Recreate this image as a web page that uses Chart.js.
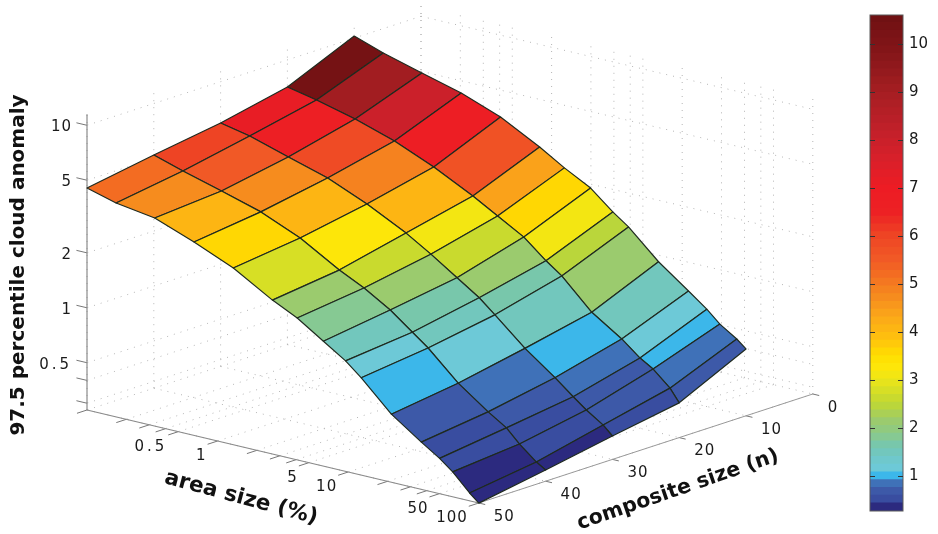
<!DOCTYPE html>
<html>
<head>
<meta charset="utf-8">
<title>97.5 percentile cloud anomaly</title>
<script src="https://cdn.jsdelivr.net/npm/chart.js@4/dist/chart.umd.js"></script>
<style>
  body { margin: 0; background: #fff; }
  #surface { position: absolute; left: 0; top: 0; }
  #colorbar { position: absolute; left: 860px; top: 0; }
</style>
</head>
<body>
<canvas id="surface" width="938" height="534"></canvas>
<canvas id="colorbar" width="78" height="534"></canvas>
<script>
// surface data
var areaSizes = [0.1, 0.167, 0.33, 0.66, 1.32, 2.63, 4.07, 6.46, 9.55, 12.6, 21.4, 36.3, 50.1, 63.1, 85, 100];
var compositeSizes = [10, 20, 30, 40, 50];
var anomalyN10 = [10.28, 9.04, 7.89, 6.89, 5.73, 4.41, 3.65, 3.06, 2.42, 2.10, 1.48, 1.12, 0.94, 0.81, 0.706, 0.64];
var anomalyN20 = [7.11, 6.58, 5.81, 4.95, 4.01, 3.13, 2.62, 2.17, 1.72, 1.49, 1.03, 0.805, 0.668, 0.605, 0.50, 0.427];
var anomalyN30 = [5.94, 5.50, 4.74, 4.09, 3.31, 2.58, 2.13, 1.71, 1.42, 1.20, 0.86, 0.65, 0.54, 0.475, 0.413, 0.37];
var anomalyN40 = [5.22, 4.66, 4.06, 3.51, 2.84, 2.13, 1.83, 1.50, 1.21, 1.04, 0.73, 0.556, 0.48, 0.407, 0.341, 0.317];
var anomalyN50 = [4.53, 4.09, 3.80, 3.16, 2.56, 1.92, 1.65, 1.33, 1.11, 0.94, 0.65, 0.50, 0.43, 0.377, 0.304, 0.275];
var anomaly = [anomalyN10, anomalyN20, anomalyN30, anomalyN40, anomalyN50];

// axis ticks
var areaTicks = [0.1, 0.2, 0.3, 0.4, 0.5, 1, 2, 3, 4, 5, 10, 20, 30, 40, 50, 100];
var areaLabels = [0.5, 1, 5, 10, 50, 100];
var compositeTicks = [0, 10, 20, 30, 40, 50];
var anomalyTicks = [0.3, 0.4, 0.5, 1, 2, 5, 10];
var anomalyLabels = [0.5, 1, 2, 5, 10];
var colorbarTicks = [1, 2, 3, 4, 5, 6, 7, 8, 9, 10];

// colormap
var colorValues = [0.28, 0.44, 0.45, 0.7, 0.78, 0.9, 0.92, 1.06, 1.08, 1.3, 1.6, 1.9, 2.15, 2.5, 2.9, 3.2, 3.5, 3.8, 4.2, 4.6, 5.2, 5.5, 6, 6.5, 7, 7.6, 8.2, 9, 9.8, 10.6];
var colorStops = ['#2c2a7f', '#2c2a7f', '#37489c', '#3d5aa9', '#3f6fb7', '#3f72b8', '#3cb7ea', '#3cb7ea', '#6ccadd', '#6ec8cf', '#74c6b3', '#8dca85', '#9ccb6c', '#bed734', '#e2e21e', '#fce80c', '#ffde00', '#ffc40c', '#fcae17', '#f7941d', '#f36c22', '#f15a26', '#ee4424', '#ed2024', '#ed1c24', '#d8202a', '#c1202a', '#a51e22', '#851619', '#6e1012'];
var colorMin = 0.28, colorMax = 10.6, colorBands = 64;

// view of the 3d box
var zMin = 0.2754, zMax = 11.5;
var view = { x0: 87, y0: 410, areaX: 130.6, areaY: 31, compX: 6.68, compY: 2.18, zPx: 182.5 };

function project(area, n, z) {
    var u = Math.log10(area) + 1;
    var k = 50 - n;
    return {
        x: view.x0 + view.areaX * u + view.compX * k,
        y: view.y0 + view.areaY * u - view.compY * k - view.zPx * (Math.log10(z) - Math.log10(zMin))
    };
}

function hexToRgb(h) {
    return [parseInt(h.substr(1, 2), 16), parseInt(h.substr(3, 2), 16), parseInt(h.substr(5, 2), 16)];
}

function rawColor(v) {
    var i = 0;
    while (i < colorValues.length - 2 && v > colorValues[i + 1]) i++;
    var t = (v - colorValues[i]) / (colorValues[i + 1] - colorValues[i]);
    t = Math.max(0, Math.min(1, t));
    var a = hexToRgb(colorStops[i]), b = hexToRgb(colorStops[i + 1]);
    return 'rgb(' + Math.round(a[0] + (b[0] - a[0]) * t) + ',' + Math.round(a[1] + (b[1] - a[1]) * t) + ',' + Math.round(a[2] + (b[2] - a[2]) * t) + ')';
}

// colours come in bands like the colorbar
function bandColor(v) {
    var w = (colorMax - colorMin) / colorBands;
    var b = Math.min(colorBands - 1, Math.max(0, Math.floor((v - colorMin) / w)));
    return rawColor(colorMin + (b + 0.5) * w);
}

function lineSet(points, color, width, dash) {
    return {
        data: points,
        showLine: true,
        fill: false,
        borderColor: color,
        borderWidth: width,
        borderDash: dash || [],
        pointRadius: 0,
        tension: 0
    };
}

var datasets = [];

// surface cells, painted from the far corner to the near one; each cell takes
// the colour of its far vertex
var cells = [];
for (var i = 0; i < compositeSizes.length - 1; i++) {
    for (var j = 0; j < areaSizes.length - 1; j++) {
        var pts = [
            project(areaSizes[j], compositeSizes[i], anomaly[i][j]),
            project(areaSizes[j + 1], compositeSizes[i], anomaly[i][j + 1]),
            project(areaSizes[j + 1], compositeSizes[i + 1], anomaly[i + 1][j + 1]),
            project(areaSizes[j], compositeSizes[i + 1], anomaly[i + 1][j])
        ];
        pts.push(pts[0]);
        var cell = lineSet(pts, '#1f2a1f', 1.2);
        cell.fill = 'shape';
        cell.backgroundColor = bandColor(anomaly[i][j]);
        cell.borderJoinStyle = 'round';
        cells.push(cell);
    }
}
// first dataset is drawn last in Chart.js
datasets = datasets.concat(cells.reverse());

// axis lines and tick marks
var axisColor = '#8a8a8a';
datasets.push(lineSet([project(0.1, 50, zMin), project(0.1, 50, zMax)], axisColor, 1.2));
datasets.push(lineSet([project(0.1, 50, zMin), project(100, 50, zMin)], axisColor, 1.2));
datasets.push(lineSet([project(100, 50, zMin), project(100, 0, zMin)], '#999', 1));
areaTicks.forEach(function (t) {
    datasets.push(lineSet([project(t, 50, zMin), project(t, 51.5, zMin)], '#777', 1));
});
compositeTicks.forEach(function (t) {
    datasets.push(lineSet([project(100, t, zMin), project(112, t, zMin)], '#777', 1));
});
anomalyTicks.forEach(function (t) {
    datasets.push(lineSet([project(0.1, 50, t), project(0.083, 50, t)], '#777', 1));
});

// dotted grid on the floor and the two back walls
var gridColor = '#b5b5b5', gridDash = [1, 6];
areaTicks.forEach(function (t) {
    datasets.push(lineSet([project(t, 0, zMin), project(t, 50, zMin)], gridColor, 1, gridDash));
    datasets.push(lineSet([project(t, 0, zMin), project(t, 0, zMax)], gridColor, 1, gridDash));
});
compositeTicks.forEach(function (t) {
    datasets.push(lineSet([project(0.1, t, zMin), project(100, t, zMin)], gridColor, 1, gridDash));
    datasets.push(lineSet([project(0.1, t, zMin), project(0.1, t, zMax)], gridColor, 1, gridDash));
});
anomalyTicks.forEach(function (t) {
    datasets.push(lineSet([project(0.1, 0, t), project(0.1, 50, t)], gridColor, 1, gridDash));
    datasets.push(lineSet([project(0.1, 0, t), project(100, 0, t)], gridColor, 1, gridDash));
});

var tickFont = '15px "DejaVu Sans"';

function putText(ctx, value, x, y, align) {
    var text = String(value);
    ctx.font = tickFont;
    ctx.fillStyle = '#1a1a1a';
    ctx.textAlign = align;
    ctx.textBaseline = 'middle';
    // the decimal label is spaced wider in the original
    ctx.letterSpacing = text.indexOf('.') >= 0 ? '3px' : '1px';
    ctx.fillText(text, x, y);
    ctx.letterSpacing = '0px';
}

function putTitle(ctx, text, size, x, y, angle) {
    ctx.save();
    ctx.translate(x, y);
    ctx.rotate(angle * Math.PI / 180);
    ctx.font = 'bold ' + size + 'px "DejaVu Sans"';
    ctx.fillStyle = '#111';
    ctx.textAlign = 'center';
    ctx.textBaseline = 'middle';
    ctx.fillText(text, 0, 0);
    ctx.restore();
}

var boxLabels = {
    id: 'boxLabels',
    afterDraw: function (chart) {
        var ctx = chart.ctx;
        var sx = chart.scales.x, sy = chart.scales.y;
        anomalyLabels.forEach(function (t) {
            var p = project(0.1, 50, t);
            putText(ctx, t, sx.getPixelForValue(p.x) - 15, sy.getPixelForValue(p.y) + 2, 'right');
        });
        areaLabels.forEach(function (t) {
            var p = project(t, 50, zMin);
            putText(ctx, t, sx.getPixelForValue(p.x) - 11, sy.getPixelForValue(p.y) + 15, 'right');
        });
        compositeTicks.forEach(function (t) {
            var p = project(100, t, zMin);
            putText(ctx, t, sx.getPixelForValue(p.x) + 15, sy.getPixelForValue(p.y) + 14, 'left');
        });
        putTitle(ctx, '97.5 percentile cloud anomaly', 20, 19, 265, -90);
        putTitle(ctx, 'area size (%)', 21.5, 241, 498, 15);
        putTitle(ctx, 'composite size (n)', 20.5, 678, 490, -19);
    }
};

new Chart(document.getElementById('surface').getContext('2d'), {
    type: 'scatter',
    data: { datasets: datasets },
    options: {
        responsive: false,
        animation: false,
        events: [],
        layout: { padding: 0 },
        plugins: { legend: { display: false }, tooltip: { enabled: false } },
        scales: {
            x: { type: 'linear', min: 0, max: 938, display: false },
            y: { type: 'linear', min: 0, max: 534, reverse: true, display: false }
        }
    },
    plugins: [boxLabels]
});

// colorbar
var barSets = [];
var bandWidth = (colorMax - colorMin) / colorBands;
for (var b = 0; b < colorBands; b++) {
    var lo = colorMin + b * bandWidth;
    barSets.push({
        data: [[lo, lo + bandWidth + 0.01]],
        backgroundColor: rawColor(lo + bandWidth / 2),
        borderWidth: 0,
        barPercentage: 1,
        categoryPercentage: 1
    });
}

var barTicks = {
    id: 'barTicks',
    afterDatasetsDraw: function (chart) {
        var ctx = chart.ctx, area = chart.chartArea, sy = chart.scales.y;
        ctx.save();
        ctx.strokeStyle = '#5a5a5a';
        ctx.lineWidth = 1;
        ctx.strokeRect(area.left, area.top, area.right - area.left, area.bottom - area.top);
        ctx.strokeStyle = '#333';
        colorbarTicks.forEach(function (t) {
            var y = Math.round(sy.getPixelForValue(t)) + 0.5;
            ctx.beginPath();
            ctx.moveTo(area.left, y);
            ctx.lineTo(area.left + 5, y);
            ctx.moveTo(area.right - 5, y);
            ctx.lineTo(area.right, y);
            ctx.stroke();
        });
        ctx.restore();
    }
};

new Chart(document.getElementById('colorbar').getContext('2d'), {
    type: 'bar',
    data: { labels: [''], datasets: barSets },
    options: {
        responsive: false,
        animation: false,
        events: [],
        layout: { padding: { left: 10, top: 13, bottom: 23, right: 0 } },
        plugins: { legend: { display: false }, tooltip: { enabled: false } },
        scales: {
            x: { stacked: true, display: false },
            y: {
                position: 'right',
                min: colorMin,
                max: colorMax,
                grid: { display: false, drawTicks: false },
                border: { display: false },
                afterBuildTicks: function (axis) {
                    axis.ticks = colorbarTicks.map(function (v) { return { value: v }; });
                },
                afterFit: function (axis) { axis.width = 35; },
                ticks: {
                    color: '#1a1a1a',
                    padding: 6,
                    autoSkip: false,
                    font: { family: 'DejaVu Sans', size: 15 }
                }
            }
        }
    },
    plugins: [barTicks]
});
</script>
</body>
</html>
